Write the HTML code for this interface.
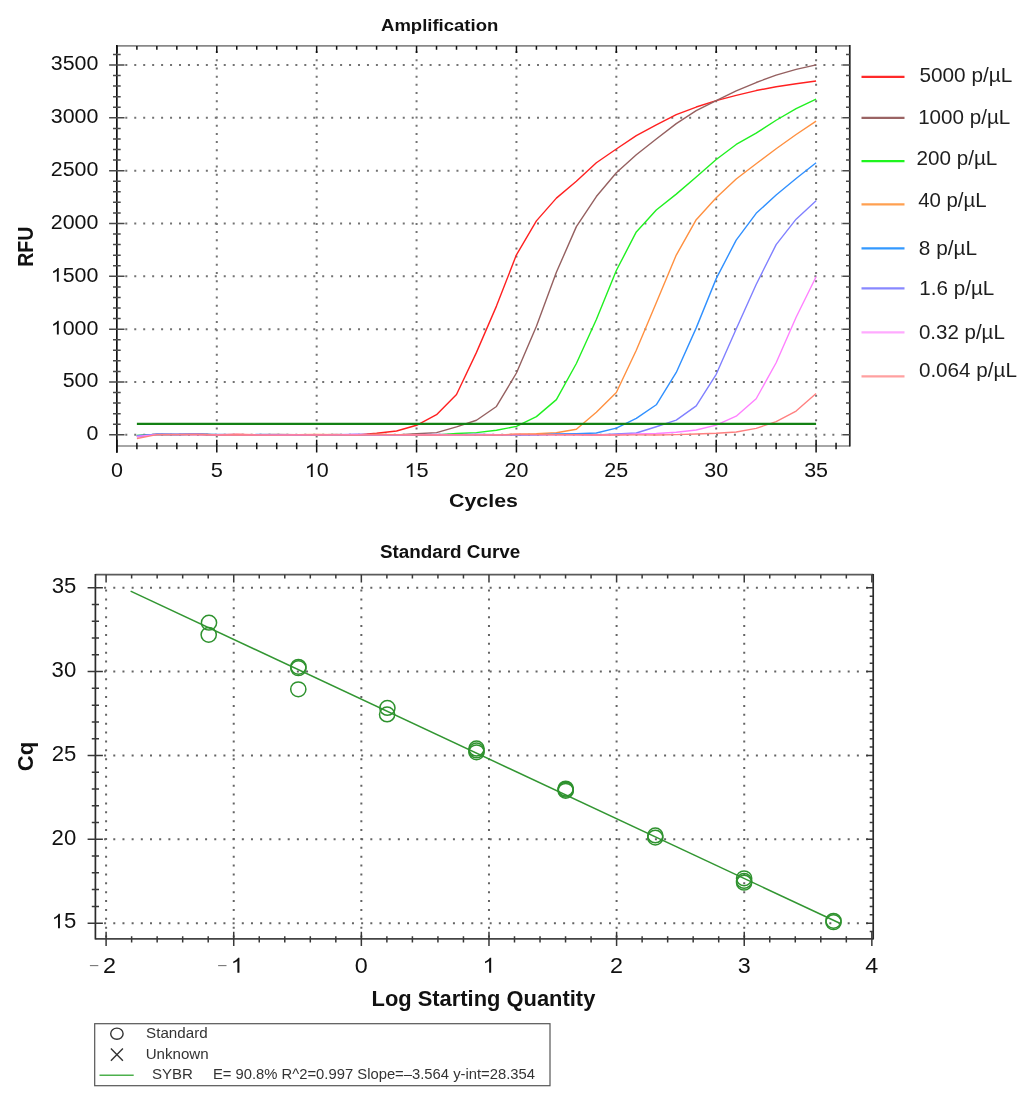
<!DOCTYPE html><html><head><meta charset="utf-8"><style>html,body{margin:0;padding:0;background:#fff;width:1035px;height:1108px;overflow:hidden}svg{display:block;will-change:transform}text{font-family:"Liberation Sans",sans-serif;font-kerning:none}</style></head><body>
<svg width="1035" height="1108" viewBox="0 0 1035 1108">
<rect width="1035" height="1108" fill="#fff"/>
<path d="M216.79,51.10V444.7M316.67,51.10V444.7M416.56,51.10V444.7M516.44,51.10V444.7M616.33,51.10V444.7M716.21,51.10V444.7M816.10,51.10V444.7" stroke="#737373" stroke-width="2" stroke-dasharray="2 6.18" fill="none"/>
<path d="M125.30,434.80H841.8M125.30,381.97H841.8M125.30,329.14H841.8M125.30,276.31H841.8M125.30,223.48H841.8M125.30,170.65H841.8M125.30,117.82H841.8M125.30,64.99H841.8" stroke="#737373" stroke-width="2" stroke-dasharray="2 6.95" fill="none"/>
<polyline points="136.88,436.07 156.85,434.49 176.83,434.60 196.81,434.18 216.79,435.07 236.76,434.57 256.74,434.78 276.72,435.08 296.69,434.69 316.67,435.09 336.65,434.84 356.62,435.07 376.60,433.32 396.58,431.00 416.56,425.29 436.53,414.72 456.51,394.44 476.49,352.39 496.46,306.11 516.44,254.86 536.42,220.84 556.39,198.12 576.37,181.22 596.35,162.73 616.33,148.99 636.30,135.57 656.28,124.79 676.26,114.65 696.23,107.04 716.21,100.60 736.19,95.42 756.16,90.56 776.14,86.76 796.12,83.80 816.10,80.94" fill="none" stroke="#ff2020" stroke-width="1.4" stroke-linejoin="round"/>
<polyline points="136.88,435.65 156.85,434.64 176.83,434.43 196.81,434.06 216.79,435.04 236.76,434.76 256.74,434.61 276.72,434.52 296.69,434.65 316.67,434.87 336.65,434.50 356.62,435.09 376.60,434.57 396.58,434.93 416.56,433.74 436.53,432.58 456.51,426.88 476.49,420.22 496.46,406.48 516.44,372.99 536.42,326.18 556.39,272.29 576.37,226.65 596.35,196.54 616.33,172.76 636.30,154.80 656.28,138.95 676.26,123.63 696.23,110.64 716.21,100.60 736.19,90.88 756.16,82.53 776.14,75.13 796.12,69.32 816.10,64.88" fill="none" stroke="#956060" stroke-width="1.4" stroke-linejoin="round"/>
<polyline points="136.88,435.43 156.85,434.60 176.83,434.62 196.81,434.39 216.79,434.60 236.76,434.79 256.74,434.64 276.72,434.71 296.69,434.78 316.67,434.77 336.65,435.08 356.62,435.08 376.60,434.99 396.58,434.69 416.56,434.85 436.53,434.92 456.51,433.53 476.49,432.58 496.46,430.26 516.44,426.35 536.42,416.63 556.39,399.62 576.37,363.48 596.35,319.42 616.33,270.50 636.30,231.93 656.28,209.96 676.26,194.11 696.23,176.99 716.21,159.56 736.19,144.45 756.16,133.14 776.14,120.25 796.12,108.63 816.10,99.12" fill="none" stroke="#20f020" stroke-width="1.4" stroke-linejoin="round"/>
<polyline points="136.88,435.86 156.85,434.32 176.83,434.41 196.81,434.40 216.79,434.61 236.76,434.46 256.74,434.86 276.72,434.75 296.69,434.68 316.67,434.56 336.65,434.65 356.62,434.93 376.60,434.50 396.58,435.04 416.56,434.85 436.53,434.64 456.51,435.02 476.49,434.81 496.46,435.09 516.44,434.06 536.42,433.74 556.39,432.69 576.37,429.20 596.35,412.19 616.33,392.54 636.30,350.27 656.28,302.73 676.26,255.07 696.23,219.68 716.21,197.80 736.19,179.00 756.16,163.78 776.14,148.78 796.12,134.51 816.10,121.20" fill="none" stroke="#ff9040" stroke-width="1.4" stroke-linejoin="round"/>
<polyline points="136.88,435.75 156.85,434.27 176.83,434.21 196.81,434.23 216.79,434.56 236.76,434.71 256.74,434.57 276.72,434.74 296.69,434.64 316.67,434.83 336.65,434.58 356.62,434.52 376.60,434.82 396.58,434.70 416.56,435.08 436.53,434.67 456.51,434.71 476.49,434.49 496.46,434.60 516.44,434.94 536.42,434.87 556.39,434.06 576.37,433.74 596.35,433.00 616.33,428.14 636.30,418.42 656.28,404.79 676.26,372.46 696.23,327.87 716.21,278.63 736.19,240.07 756.16,213.34 776.14,194.95 796.12,178.47 816.10,162.73" fill="none" stroke="#3090ff" stroke-width="1.4" stroke-linejoin="round"/>
<polyline points="136.88,436.70 156.85,434.27 176.83,434.68 196.81,434.30 216.79,435.01 236.76,434.83 256.74,434.97 276.72,434.63 296.69,434.93 316.67,434.96 336.65,434.87 356.62,434.56 376.60,435.07 396.58,434.83 416.56,434.77 436.53,434.56 456.51,434.60 476.49,434.57 496.46,434.94 516.44,434.85 536.42,434.89 556.39,434.56 576.37,434.51 596.35,435.02 616.33,433.95 636.30,433.00 656.28,426.77 676.26,420.11 696.23,405.85 716.21,374.26 736.19,328.93 756.16,284.45 776.14,244.61 796.12,219.15 816.10,200.66" fill="none" stroke="#8080ff" stroke-width="1.4" stroke-linejoin="round"/>
<polyline points="136.88,436.38 156.85,434.58 176.83,434.55 196.81,434.44 216.79,434.81 236.76,434.53 256.74,434.84 276.72,435.11 296.69,434.75 316.67,434.88 336.65,434.76 356.62,434.51 376.60,434.68 396.58,434.79 416.56,434.73 436.53,434.69 456.51,435.08 476.49,434.55 496.46,434.62 516.44,434.56 536.42,434.61 556.39,434.87 576.37,434.86 596.35,435.05 616.33,434.71 636.30,434.06 656.28,433.53 676.26,432.26 696.23,430.05 716.21,425.08 736.19,416.20 756.16,398.77 776.14,362.74 796.12,317.31 816.10,276.73" fill="none" stroke="#ff80ff" stroke-width="1.4" stroke-linejoin="round"/>
<polyline points="136.88,438.50 156.85,434.65 176.83,434.65 196.81,434.46 216.79,435.01 236.76,434.69 256.74,434.98 276.72,435.12 296.69,434.92 316.67,435.05 336.65,434.89 356.62,435.10 376.60,434.56 396.58,434.73 416.56,435.02 436.53,434.96 456.51,434.90 476.49,434.89 496.46,435.04 516.44,434.58 536.42,434.49 556.39,434.82 576.37,434.81 596.35,435.06 616.33,435.05 636.30,434.90 656.28,434.95 676.26,434.59 696.23,433.95 716.21,433.22 736.19,431.95 756.16,428.35 776.14,421.59 796.12,411.03 816.10,393.59" fill="none" stroke="#ff8080" stroke-width="1.4" stroke-linejoin="round"/>
<line x1="136.88" y1="423.92" x2="816.10" y2="423.92" stroke="#138013" stroke-width="2.4"/>
<line x1="116.85" y1="45.9" x2="849.8" y2="45.9" stroke="#888" stroke-width="1.7"/>
<line x1="116.85" y1="446.0" x2="849.8" y2="446.0" stroke="#888" stroke-width="1.7"/>
<line x1="116.85" y1="45.1" x2="116.85" y2="452.7" stroke="#111" stroke-width="1.7"/>
<line x1="849.8" y1="45.1" x2="849.8" y2="446.5" stroke="#222" stroke-width="1.7"/>
<path d="M109.1,434.80H124.5M842.3,434.80H849.8M113.0,424.23H120.7M846.0,424.23H849.8M113.0,413.67H120.7M846.0,413.67H849.8M113.0,403.10H120.7M846.0,403.10H849.8M113.0,392.54H120.7M846.0,392.54H849.8M109.1,381.97H124.5M842.3,381.97H849.8M113.0,371.40H120.7M846.0,371.40H849.8M113.0,360.84H120.7M846.0,360.84H849.8M113.0,350.27H120.7M846.0,350.27H849.8M113.0,339.71H120.7M846.0,339.71H849.8M109.1,329.14H124.5M842.3,329.14H849.8M113.0,318.57H120.7M846.0,318.57H849.8M113.0,308.01H120.7M846.0,308.01H849.8M113.0,297.44H120.7M846.0,297.44H849.8M113.0,286.88H120.7M846.0,286.88H849.8M109.1,276.31H124.5M842.3,276.31H849.8M113.0,265.74H120.7M846.0,265.74H849.8M113.0,255.18H120.7M846.0,255.18H849.8M113.0,244.61H120.7M846.0,244.61H849.8M113.0,234.05H120.7M846.0,234.05H849.8M109.1,223.48H124.5M842.3,223.48H849.8M113.0,212.91H120.7M846.0,212.91H849.8M113.0,202.35H120.7M846.0,202.35H849.8M113.0,191.78H120.7M846.0,191.78H849.8M113.0,181.22H120.7M846.0,181.22H849.8M109.1,170.65H124.5M842.3,170.65H849.8M113.0,160.08H120.7M846.0,160.08H849.8M113.0,149.52H120.7M846.0,149.52H849.8M113.0,138.95H120.7M846.0,138.95H849.8M113.0,128.39H120.7M846.0,128.39H849.8M109.1,117.82H124.5M842.3,117.82H849.8M113.0,107.25H120.7M846.0,107.25H849.8M113.0,96.69H120.7M846.0,96.69H849.8M113.0,86.12H120.7M846.0,86.12H849.8M113.0,75.56H120.7M846.0,75.56H849.8M109.1,64.99H124.5M842.3,64.99H849.8M113.0,54.42H120.7M846.0,54.42H849.8" stroke="#4a4a4a" stroke-width="1.5" fill="none"/>
<path d="M116.90,439.7V452.5M116.90,45.9V52.9M136.88,442.7V449.2M136.88,45.9V49.7M156.85,442.7V449.2M156.85,45.9V49.7M176.83,442.7V449.2M176.83,45.9V49.7M196.81,442.7V449.2M196.81,45.9V49.7M216.79,439.7V452.5M216.79,45.9V52.9M236.76,442.7V449.2M236.76,45.9V49.7M256.74,442.7V449.2M256.74,45.9V49.7M276.72,442.7V449.2M276.72,45.9V49.7M296.69,442.7V449.2M296.69,45.9V49.7M316.67,439.7V452.5M316.67,45.9V52.9M336.65,442.7V449.2M336.65,45.9V49.7M356.62,442.7V449.2M356.62,45.9V49.7M376.60,442.7V449.2M376.60,45.9V49.7M396.58,442.7V449.2M396.58,45.9V49.7M416.56,439.7V452.5M416.56,45.9V52.9M436.53,442.7V449.2M436.53,45.9V49.7M456.51,442.7V449.2M456.51,45.9V49.7M476.49,442.7V449.2M476.49,45.9V49.7M496.46,442.7V449.2M496.46,45.9V49.7M516.44,439.7V452.5M516.44,45.9V52.9M536.42,442.7V449.2M536.42,45.9V49.7M556.39,442.7V449.2M556.39,45.9V49.7M576.37,442.7V449.2M576.37,45.9V49.7M596.35,442.7V449.2M596.35,45.9V49.7M616.33,439.7V452.5M616.33,45.9V52.9M636.30,442.7V449.2M636.30,45.9V49.7M656.28,442.7V449.2M656.28,45.9V49.7M676.26,442.7V449.2M676.26,45.9V49.7M696.23,442.7V449.2M696.23,45.9V49.7M716.21,439.7V452.5M716.21,45.9V52.9M736.19,442.7V449.2M736.19,45.9V49.7M756.16,442.7V449.2M756.16,45.9V49.7M776.14,442.7V449.2M776.14,45.9V49.7M796.12,442.7V449.2M796.12,45.9V49.7M816.10,439.7V452.5M816.10,45.9V52.9M836.07,442.7V449.2M836.07,45.9V49.7" stroke="#111" stroke-width="1.5" fill="none"/>
<text transform="translate(86.52,440.20) scale(1.0683,1)" font-size="20.05" font-weight="normal" fill="#111" >0</text>
<text transform="translate(62.70,387.37) scale(1.0683,1)" font-size="20.05" font-weight="normal" fill="#111" >500</text>
<path transform="translate(50.78,334.54) scale(0.01046,-0.00979)" fill="#111" d="M763 0H583V1098Q518 1038 412 979Q307 920 223 890V1057Q374 1125 487 1221Q600 1318 647 1409H763Z"/>
<text transform="translate(50.78,334.54) scale(1.0683,1)" font-size="20.05" font-weight="normal" fill="#111" > 000</text>
<path transform="translate(50.78,281.71) scale(0.01046,-0.00979)" fill="#111" d="M763 0H583V1098Q518 1038 412 979Q307 920 223 890V1057Q374 1125 487 1221Q600 1318 647 1409H763Z"/>
<text transform="translate(50.78,281.71) scale(1.0683,1)" font-size="20.05" font-weight="normal" fill="#111" > 500</text>
<text transform="translate(50.78,228.88) scale(1.0683,1)" font-size="20.05" font-weight="normal" fill="#111" >2000</text>
<text transform="translate(50.78,176.05) scale(1.0683,1)" font-size="20.05" font-weight="normal" fill="#111" >2500</text>
<text transform="translate(50.78,123.22) scale(1.0683,1)" font-size="20.05" font-weight="normal" fill="#111" >3000</text>
<text transform="translate(50.78,70.39) scale(1.0683,1)" font-size="20.05" font-weight="normal" fill="#111" >3500</text>
<text transform="translate(110.92,477.10) scale(1.0800,1)" font-size="19.91" font-weight="normal" fill="#111" >0</text>
<text transform="translate(210.72,477.10) scale(1.0800,1)" font-size="20.20" font-weight="normal" fill="#111" >5</text>
<path transform="translate(304.71,477.10) scale(0.01050,-0.00972)" fill="#111" d="M763 0H583V1098Q518 1038 412 979Q307 920 223 890V1057Q374 1125 487 1221Q600 1318 647 1409H763Z"/>
<text transform="translate(304.71,477.10) scale(1.0800,1)" font-size="19.91" font-weight="normal" fill="#111" > 0</text>
<path transform="translate(404.42,477.10) scale(0.01065,-0.00987)" fill="#111" d="M763 0H583V1098Q518 1038 412 979Q307 920 223 890V1057Q374 1125 487 1221Q600 1318 647 1409H763Z"/>
<text transform="translate(404.42,477.10) scale(1.0800,1)" font-size="20.20" font-weight="normal" fill="#111" > 5</text>
<text transform="translate(504.48,477.10) scale(1.0800,1)" font-size="19.91" font-weight="normal" fill="#111" >20</text>
<text transform="translate(604.37,477.10) scale(1.0800,1)" font-size="19.91" font-weight="normal" fill="#111" >25</text>
<text transform="translate(704.25,477.10) scale(1.0800,1)" font-size="19.91" font-weight="normal" fill="#111" >30</text>
<text transform="translate(804.14,477.10) scale(1.0800,1)" font-size="19.91" font-weight="normal" fill="#111" >35</text>
<text transform="translate(381.04,31.20) scale(1.0891,1)" font-size="17.01" font-weight="bold" fill="#111" >Amplification</text>
<text transform="translate(449.02,506.50) scale(1.1311,1)" font-size="18.90" font-weight="bold" fill="#111" >Cycles</text>
<text transform="translate(33.00,266.81) rotate(-90) scale(1,1.1591)" font-size="19.56" font-weight="bold" fill="#111">RFU</text>
<line x1="861.5" y1="76.8" x2="904.5" y2="76.8" stroke="#ff2a2a" stroke-width="2.3"/>
<text transform="translate(919.47,82.10) scale(1.0516,1)" font-size="19.77" font-weight="normal" fill="#1e1e1e" >5000 p/µL</text>
<line x1="861.5" y1="117.8" x2="904.5" y2="117.8" stroke="#9a6464" stroke-width="2.3"/>
<text transform="translate(918.13,124.00) scale(1.0429,1)" font-size="19.77" font-weight="normal" fill="#1e1e1e" >1000 p/µL</text>
<line x1="861.5" y1="161.1" x2="904.5" y2="161.1" stroke="#1ff51f" stroke-width="2.3"/>
<text transform="translate(916.46,165.30) scale(1.0460,1)" font-size="19.77" font-weight="normal" fill="#1e1e1e" >200 p/µL</text>
<line x1="861.5" y1="204.3" x2="904.5" y2="204.3" stroke="#ffa050" stroke-width="2.3"/>
<text transform="translate(918.13,206.60) scale(1.0328,1)" font-size="19.77" font-weight="normal" fill="#1e1e1e" >40 p/µL</text>
<line x1="861.5" y1="248.3" x2="904.5" y2="248.3" stroke="#3399ff" stroke-width="2.3"/>
<text transform="translate(918.80,254.80) scale(1.0528,1)" font-size="19.77" font-weight="normal" fill="#1e1e1e" >8 p/µL</text>
<line x1="861.5" y1="288.4" x2="904.5" y2="288.4" stroke="#8888ff" stroke-width="2.3"/>
<text transform="translate(919.33,295.00) scale(1.0430,1)" font-size="19.77" font-weight="normal" fill="#1e1e1e" >1.6 p/µL</text>
<line x1="861.5" y1="332.4" x2="904.5" y2="332.4" stroke="#ffaaff" stroke-width="2.3"/>
<text transform="translate(918.90,338.60) scale(1.0377,1)" font-size="19.77" font-weight="normal" fill="#1e1e1e" >0.32 p/µL</text>
<line x1="861.5" y1="376.4" x2="904.5" y2="376.4" stroke="#ffa0a0" stroke-width="2.3"/>
<text transform="translate(918.89,376.60) scale(1.0451,1)" font-size="19.77" font-weight="normal" fill="#1e1e1e" >0.064 p/µL</text>
<path d="M106.10,589.60V937.8M233.73,589.60V937.8M361.35,589.60V937.8M488.98,589.60V937.8M616.60,589.60V937.8M744.23,589.60V937.8" stroke="#646464" stroke-width="2" stroke-dasharray="2 6.87" fill="none"/>
<path d="M104.10,923.15H868.2M104.10,839.30H868.2M104.10,755.45H868.2M104.10,671.60H868.2M104.10,587.75H868.2" stroke="#646464" stroke-width="2" stroke-dasharray="2 7.18" fill="none"/>
<line x1="130.60" y1="591.14" x2="839.31" y2="923.04" stroke="#329632" stroke-width="1.5"/>
<ellipse cx="209.00" cy="622.70" rx="7.6" ry="7.4" fill="none" stroke="#2e922e" stroke-width="1.5"/>
<ellipse cx="208.70" cy="634.80" rx="7.6" ry="7.4" fill="none" stroke="#2e922e" stroke-width="1.5"/>
<ellipse cx="298.40" cy="666.80" rx="7.6" ry="7.4" fill="none" stroke="#2e922e" stroke-width="1.5"/>
<ellipse cx="298.40" cy="668.20" rx="7.6" ry="7.4" fill="none" stroke="#2e922e" stroke-width="1.5"/>
<ellipse cx="298.30" cy="689.30" rx="7.6" ry="7.4" fill="none" stroke="#2e922e" stroke-width="1.5"/>
<ellipse cx="387.40" cy="707.90" rx="7.6" ry="7.4" fill="none" stroke="#2e922e" stroke-width="1.5"/>
<ellipse cx="387.10" cy="714.40" rx="7.6" ry="7.4" fill="none" stroke="#2e922e" stroke-width="1.5"/>
<ellipse cx="476.50" cy="748.50" rx="7.6" ry="7.4" fill="none" stroke="#2e922e" stroke-width="1.5"/>
<ellipse cx="476.50" cy="750.40" rx="7.6" ry="7.4" fill="none" stroke="#2e922e" stroke-width="1.5"/>
<ellipse cx="476.50" cy="752.30" rx="7.6" ry="7.4" fill="none" stroke="#2e922e" stroke-width="1.5"/>
<ellipse cx="565.70" cy="788.60" rx="7.6" ry="7.4" fill="none" stroke="#2e922e" stroke-width="1.5"/>
<ellipse cx="565.70" cy="789.70" rx="7.6" ry="7.4" fill="none" stroke="#2e922e" stroke-width="1.5"/>
<ellipse cx="565.70" cy="790.80" rx="7.6" ry="7.4" fill="none" stroke="#2e922e" stroke-width="1.5"/>
<ellipse cx="655.30" cy="835.40" rx="7.6" ry="7.4" fill="none" stroke="#2e922e" stroke-width="1.5"/>
<ellipse cx="655.30" cy="837.60" rx="7.6" ry="7.4" fill="none" stroke="#2e922e" stroke-width="1.5"/>
<ellipse cx="744.10" cy="878.30" rx="7.6" ry="7.4" fill="none" stroke="#2e922e" stroke-width="1.5"/>
<ellipse cx="744.10" cy="880.90" rx="7.6" ry="7.4" fill="none" stroke="#2e922e" stroke-width="1.5"/>
<ellipse cx="744.10" cy="882.70" rx="7.6" ry="7.4" fill="none" stroke="#2e922e" stroke-width="1.5"/>
<ellipse cx="833.50" cy="920.80" rx="7.6" ry="7.4" fill="none" stroke="#2e922e" stroke-width="1.5"/>
<ellipse cx="833.50" cy="922.20" rx="7.6" ry="7.4" fill="none" stroke="#2e922e" stroke-width="1.5"/>
<line x1="95.4" y1="574.7" x2="873.2" y2="574.7" stroke="#5a5a5a" stroke-width="1.7"/>
<line x1="95.4" y1="938.8" x2="873.2" y2="938.8" stroke="#444" stroke-width="1.7"/>
<line x1="95.4" y1="573.9000000000001" x2="95.4" y2="939.5999999999999" stroke="#2a2a2a" stroke-width="1.7"/>
<line x1="873.2" y1="573.9000000000001" x2="873.2" y2="939.5999999999999" stroke="#2a2a2a" stroke-width="1.7"/>
<path d="M87.6,923.15H102.9M866.2,923.15H873.2M91.8,906.38H99.0M91.8,889.61H99.0M91.8,872.84H99.0M91.8,856.07H99.0M87.6,839.30H102.9M866.2,839.30H873.2M91.8,822.53H99.0M91.8,805.76H99.0M91.8,788.99H99.0M91.8,772.22H99.0M87.6,755.45H102.9M866.2,755.45H873.2M91.8,738.68H99.0M91.8,721.91H99.0M91.8,705.14H99.0M91.8,688.37H99.0M87.6,671.60H102.9M866.2,671.60H873.2M91.8,654.83H99.0M91.8,638.06H99.0M91.8,621.29H99.0M91.8,604.52H99.0M87.6,587.75H102.9M866.2,587.75H873.2M869.7,931.53H873.2M869.7,914.76H873.2M869.7,906.38H873.2M869.7,898.00H873.2M869.7,889.61H873.2M869.7,881.22H873.2M869.7,872.84H873.2M869.7,864.45H873.2M869.7,856.07H873.2M869.7,847.68H873.2M869.7,830.91H873.2M869.7,822.53H873.2M869.7,814.14H873.2M869.7,805.76H873.2M869.7,797.38H873.2M869.7,788.99H873.2M869.7,780.61H873.2M869.7,772.22H873.2M869.7,763.84H873.2M869.7,747.07H873.2M869.7,738.68H873.2M869.7,730.29H873.2M869.7,721.91H873.2M869.7,713.52H873.2M869.7,705.14H873.2M869.7,696.75H873.2M869.7,688.37H873.2M869.7,679.99H873.2M869.7,663.22H873.2M869.7,654.83H873.2M869.7,646.45H873.2M869.7,638.06H873.2M869.7,629.67H873.2M869.7,621.29H873.2M869.7,612.90H873.2M869.7,604.52H873.2M869.7,596.13H873.2M106.10,931.8V946.1M106.10,574.7V582.4M131.63,936.3V942.6M131.63,574.7V578.5M157.15,936.3V942.6M157.15,574.7V578.5M182.68,936.3V942.6M182.68,574.7V578.5M208.20,936.3V942.6M208.20,574.7V578.5M233.73,931.8V946.1M233.73,574.7V582.4M259.25,936.3V942.6M259.25,574.7V578.5M284.78,936.3V942.6M284.78,574.7V578.5M310.30,936.3V942.6M310.30,574.7V578.5M335.83,936.3V942.6M335.83,574.7V578.5M361.35,931.8V946.1M361.35,574.7V582.4M386.88,936.3V942.6M386.88,574.7V578.5M412.40,936.3V942.6M412.40,574.7V578.5M437.93,936.3V942.6M437.93,574.7V578.5M463.45,936.3V942.6M463.45,574.7V578.5M488.98,931.8V946.1M488.98,574.7V582.4M514.50,936.3V942.6M514.50,574.7V578.5M540.02,936.3V942.6M540.02,574.7V578.5M565.55,936.3V942.6M565.55,574.7V578.5M591.08,936.3V942.6M591.08,574.7V578.5M616.60,931.8V946.1M616.60,574.7V582.4M642.12,936.3V942.6M642.12,574.7V578.5M667.65,936.3V942.6M667.65,574.7V578.5M693.17,936.3V942.6M693.17,574.7V578.5M718.70,936.3V942.6M718.70,574.7V578.5M744.23,931.8V946.1M744.23,574.7V582.4M769.75,936.3V942.6M769.75,574.7V578.5M795.28,936.3V942.6M795.28,574.7V578.5M820.80,936.3V942.6M820.80,574.7V578.5M846.33,936.3V942.6M846.33,574.7V578.5M871.85,931.8V946.1M871.85,574.7V582.4" stroke="#383838" stroke-width="1.5" fill="none"/>
<path transform="translate(51.69,928.35) scale(0.01082,-0.01035)" fill="#111" d="M763 0H583V1098Q518 1038 412 979Q307 920 223 890V1057Q374 1125 487 1221Q600 1318 647 1409H763Z"/>
<text transform="translate(51.69,928.35) scale(1.0453,1)" font-size="21.20" font-weight="normal" fill="#111" > 5</text>
<text transform="translate(51.62,844.50) scale(1.0453,1)" font-size="21.20" font-weight="normal" fill="#111" >20</text>
<text transform="translate(51.69,760.65) scale(1.0453,1)" font-size="21.20" font-weight="normal" fill="#111" >25</text>
<text transform="translate(51.62,676.80) scale(1.0453,1)" font-size="21.20" font-weight="normal" fill="#111" >30</text>
<text transform="translate(51.69,592.95) scale(1.0453,1)" font-size="21.20" font-weight="normal" fill="#111" >35</text>
<text transform="translate(103.11,972.70) scale(1.0800,1)" font-size="21.61" font-weight="normal" fill="#111" >2</text>
<line x1="89.9" y1="965.6" x2="98.3" y2="965.6" stroke="#777" stroke-width="1.1"/>
<path transform="translate(230.73,972.70) scale(0.01140,-0.01055)" fill="#111" d="M763 0H583V1098Q518 1038 412 979Q307 920 223 890V1057Q374 1125 487 1221Q600 1318 647 1409H763Z"/>
<text transform="translate(230.73,972.70) scale(1.0800,1)" font-size="21.61" font-weight="normal" fill="#111" > </text>
<line x1="218.1" y1="965.6" x2="226.5" y2="965.6" stroke="#777" stroke-width="1.1"/>
<text transform="translate(354.86,972.70) scale(1.0800,1)" font-size="21.61" font-weight="normal" fill="#111" >0</text>
<path transform="translate(482.48,972.70) scale(0.01140,-0.01055)" fill="#111" d="M763 0H583V1098Q518 1038 412 979Q307 920 223 890V1057Q374 1125 487 1221Q600 1318 647 1409H763Z"/>
<text transform="translate(482.48,972.70) scale(1.0800,1)" font-size="21.61" font-weight="normal" fill="#111" > </text>
<text transform="translate(610.11,972.70) scale(1.0800,1)" font-size="21.61" font-weight="normal" fill="#111" >2</text>
<text transform="translate(737.73,972.70) scale(1.0800,1)" font-size="21.61" font-weight="normal" fill="#111" >3</text>
<text transform="translate(865.36,972.70) scale(1.0800,1)" font-size="21.61" font-weight="normal" fill="#111" >4</text>
<text transform="translate(379.96,558.20) scale(1.0448,1)" font-size="18.05" font-weight="bold" fill="#111" >Standard Curve</text>
<text transform="translate(371.53,1005.70) scale(1.0118,1)" font-size="21.66" font-weight="bold" fill="#111" >Log Starting Quantity</text>
<text transform="translate(32.90,771.20) rotate(-90) scale(1,0.9682)" font-size="22.04" font-weight="bold" fill="#111">Cq</text>
<rect x="94.7" y="1023.7" width="455.3" height="62" fill="none" stroke="#555" stroke-width="1.2"/>
<ellipse cx="116.9" cy="1033.7" rx="6.2" ry="5.6" fill="none" stroke="#333" stroke-width="1.4"/>
<path d="M110.9,1048.5L122.9,1060.7M122.9,1048.5L110.9,1060.7" stroke="#333" stroke-width="1.4"/>
<line x1="99.5" y1="1075.3" x2="133.7" y2="1075.3" stroke="#4cb04c" stroke-width="1.4"/>
<text transform="translate(146.11,1038.20) scale(0.9992,1)" font-size="15.18" font-weight="normal" fill="#333" >Standard</text>
<text transform="translate(145.63,1058.90) scale(0.9724,1)" font-size="15.55" font-weight="normal" fill="#333" >Unknown</text>
<text transform="translate(151.92,1078.80) scale(1.0404,1)" font-size="14.46" font-weight="normal" fill="#333" >SYBR</text>
<text transform="translate(212.88,1078.80) scale(1.0092,1)" font-size="14.68" font-weight="normal" fill="#333" >E= 90.8% R^2=0.997 Slope=–3.564 y-int=28.354</text>
</svg></body></html>
